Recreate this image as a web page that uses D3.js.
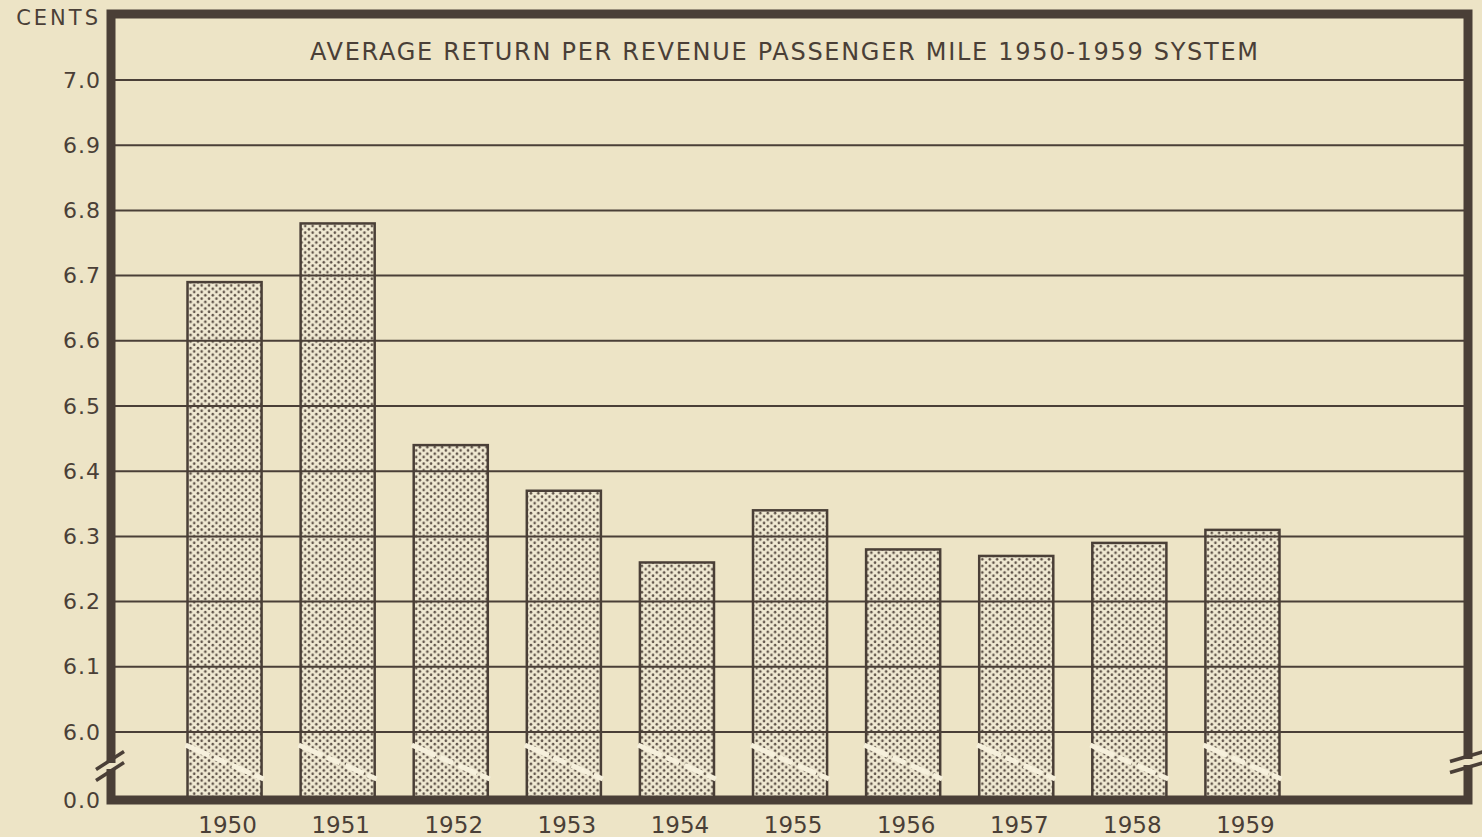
<!DOCTYPE html>
<html>
<head>
<meta charset="utf-8">
<script src="https://cdn.jsdelivr.net/npm/d3@7"></script>
<style>
  html, body { margin: 0; padding: 0; background: #ede4c6; }
  svg { display: block; }
  text { font-family: "DejaVu Sans", "Liberation Sans", sans-serif; fill: #4a3f37; }
</style>
</head>
<body>
<svg id="chart" width="1482" height="837"></svg>
<script>
// Average return per revenue passenger mile, cents
const years = ["1950", "1951", "1952", "1953", "1954", "1955", "1956", "1957", "1958", "1959"];
const cents = [6.69, 6.78, 6.44, 6.37, 6.26, 6.34, 6.28, 6.27, 6.29, 6.31];
const tickValues = [7.0, 6.9, 6.8, 6.7, 6.6, 6.5, 6.4, 6.3, 6.2, 6.1, 6.0];
const tickLabels = ["7.0", "6.9", "6.8", "6.7", "6.6", "6.5", "6.4", "6.3", "6.2", "6.1", "6.0"];
const baseLabel = "0.0";
const unitLabel = "CENTS";
const title = "AVERAGE RETURN PER REVENUE PASSENGER MILE 1950-1959 SYSTEM";

const ink = "#4a3f37";
const paper = "#ede4c6";

const svg = d3.select("#chart");

// frame (centre of the heavy border stroke)
const frame = { left: 111, top: 14, right: 1468, bottom: 800 };

// broken value axis: 6.0 – 7.0 shown, bars run down to the zero baseline
const y = d3.scaleLinear().domain([6.0, 7.0]).range([732, 80]);
const x = d3.scaleBand().domain(years).range([168, 1299])
  .paddingInner(0.345).paddingOuter(0.1725);

// dotted screen for the bars
const defs = svg.append("defs");
const pat = defs.append("pattern")
  .attr("id", "dots").attr("patternUnits", "userSpaceOnUse")
  .attr("width", 7.4).attr("height", 6.6);
pat.append("rect").attr("width", 7.4).attr("height", 6.6).attr("fill", "#f0e9d2");
pat.append("circle").attr("cx", 1.85).attr("cy", 1.65).attr("r", 1.3).attr("fill", "#5e5248");
pat.append("circle").attr("cx", 5.55).attr("cy", 4.95).attr("r", 1.3).attr("fill", "#5e5248");

// bars
const bars = svg.append("g");
bars.selectAll("rect").data(cents).join("rect")
  .attr("x", (d, i) => x(years[i]))
  .attr("y", d => y(d))
  .attr("width", x.bandwidth())
  .attr("height", d => frame.bottom - y(d))
  .attr("fill", "url(#dots)")
  .attr("stroke", ink).attr("stroke-width", 2.5);

// white break stroke across each bar
bars.selectAll("path.cut").data(cents).join("path")
  .attr("class", "cut")
  .attr("d", (d, i) => {
    const x0 = x(years[i]) - 2, x1 = x(years[i]) + x.bandwidth() + 2;
    return `M${x0},${745}L${x1},${779}`;
  })
  .attr("stroke", "#f6f0dc").attr("stroke-width", 5)
  .attr("stroke-dasharray", "26,5,14,6,20,4");

// horizontal rules, drawn over the bars
svg.append("g").selectAll("line").data(tickValues).join("line")
  .attr("x1", frame.left).attr("x2", frame.right)
  .attr("y1", d => y(d)).attr("y2", d => y(d))
  .attr("stroke", ink).attr("stroke-width", 2);

// value labels
const yAxis = d3.axisLeft(y).tickValues(tickValues)
  .tickFormat((d, i) => tickLabels[i]).tickSize(0).tickPadding(0);
const ga = svg.append("g").attr("transform", "translate(101,0)").call(yAxis);
ga.select(".domain").remove();
ga.selectAll("text").attr("font-size", 22).attr("fill", ink)
  .attr("letter-spacing", 1)
  .attr("font-family", "DejaVu Sans, sans-serif");

svg.append("text").attr("x", 101).attr("y", frame.bottom).attr("dy", "0.35em")
  .attr("text-anchor", "end").attr("font-size", 22).attr("letter-spacing", 1)
  .text(baseLabel);
svg.append("text").attr("x", 101).attr("y", 25)
  .attr("text-anchor", "end").attr("font-size", 21)
  .attr("letter-spacing", 3).text(unitLabel);

// category labels
const xAxis = d3.axisBottom(x).tickSize(0).tickPadding(0);
const gx = svg.append("g").attr("transform", `translate(3,${frame.bottom + 17})`).call(xAxis);
gx.select(".domain").remove();
gx.selectAll("text").attr("font-size", 23).attr("fill", ink)
  .attr("font-family", "Liberation Sans, sans-serif");

// title
svg.append("text").attr("x", 310).attr("y", 60)
  .attr("font-size", 24).attr("textLength", 948).attr("lengthAdjust", "spacing")
  .text(title);

// heavy frame
svg.append("rect")
  .attr("x", frame.left).attr("y", frame.top)
  .attr("width", frame.right - frame.left).attr("height", frame.bottom - frame.top)
  .attr("fill", "none").attr("stroke", ink).attr("stroke-width", 9);

// axis break marks on both sides
function breakMark(cx, cy, half, rise) {
  const g = svg.append("g");
  [-5.5, 5.5].forEach(o => {
    g.append("line")
      .attr("x1", cx - half).attr("y1", cy + o + rise)
      .attr("x2", cx + half).attr("y2", cy + o - rise)
      .attr("stroke", ink).attr("stroke-width", 3.5);
  });
}
// clear a gap in the frame at the break points
[[frame.left, 766], [frame.right, 762]].forEach(([cx, cy]) => {
  svg.append("line").attr("x1", cx).attr("x2", cx)
    .attr("y1", cy - 3).attr("y2", cy + 3)
    .attr("stroke", paper).attr("stroke-width", 12);
});
breakMark(frame.left - 1, 766, 14, 9);
breakMark(frame.right - 1, 762, 17, 5);
</script>
</body>
</html>
